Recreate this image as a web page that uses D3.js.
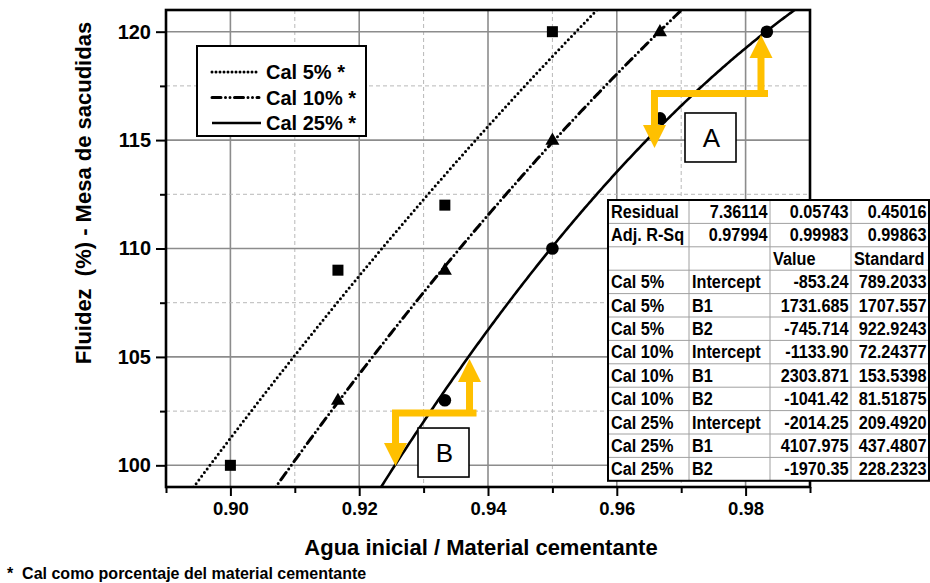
<!DOCTYPE html>
<html>
<head>
<meta charset="utf-8">
<script src="https://cdn.jsdelivr.net/npm/d3@7"></script>
<style>
  html, body { margin: 0; padding: 0; background: #fff; }
  svg { display: block; font-family: "Liberation Sans", Arial, sans-serif; }
</style>
</head>
<body>
<svg id="chart" width="930" height="583"></svg>
<script>
// Measured flow (%) against initial water / cementing material ratio
const ratio5  = [0.9, 0.9167, 0.9333, 0.95];
const flow5   = [100, 109, 112, 120];
const ratio10 = [0.9167, 0.9333, 0.95, 0.9667];
const flow10  = [103, 109, 115, 120];
const ratio25 = [0.9333, 0.95, 0.9667, 0.9833];
const flow25  = [103, 110, 116, 120];

// Quadratic fit parameters (Intercept, B1, B2) and their standard errors
const seriesNames = ["Cal 5%", "Cal 10%", "Cal 25%"];
const fitIntercept = [-853.24, -1133.90, -2014.25];
const fitB1 = [1731.685, 2303.871, 4107.975];
const fitB2 = [-745.714, -1041.42, -1970.35];
const fitInterceptText = ["-853.24", "-1133.90", "-2014.25"];
const fitB1Text = ["1731.685", "2303.871", "4107.975"];
const fitB2Text = ["-745.714", "-1041.42", "-1970.35"];
const errIntercept = ["789.2033", "72.24377", "209.4920"];
const errB1 = ["1707.557", "153.5398", "437.4807"];
const errB2 = ["922.9243", "81.51875", "228.2323"];
const residualText = ["7.36114", "0.05743", "0.45016"];
const adjRSqText = ["0.97994", "0.99983", "0.99863"];

// Axis ticks
const xMajor = [0.90, 0.92, 0.94, 0.96, 0.98];
const xMinor = [0.89, 0.91, 0.93, 0.95, 0.97, 0.99];
const yMajor = [100, 105, 110, 115, 120];
const yMinor = [102.5, 107.5, 112.5, 117.5];

const svg = d3.select("#chart");
const L = 166, R = 810, T = 10, B = 487;
const x = d3.scaleLinear().domain([0.89, 0.99]).range([L, R]);
const y = d3.scaleLinear().domain([99, 121]).range([B, T]);

svg.append("defs").append("clipPath").attr("id", "plot")
  .append("rect").attr("x", L).attr("y", T).attr("width", R - L).attr("height", B - T);

// Grid
const grid = svg.append("g");
grid.selectAll(".gx").data(xMajor).join("line")
  .attr("x1", d => x(d)).attr("x2", d => x(d)).attr("y1", T).attr("y2", B)
  .attr("stroke", "#8c8c8c").attr("stroke-width", 1.6);
grid.selectAll(".gxm").data(xMinor.filter(d => d > 0.895 && d < 0.985)).join("line")
  .attr("x1", d => x(d)).attr("x2", d => x(d)).attr("y1", T).attr("y2", B)
  .attr("stroke", "#b8b8b8").attr("stroke-width", 1).attr("stroke-dasharray", "4,3");
grid.selectAll(".gy").data(yMajor).join("line")
  .attr("y1", d => y(d)).attr("y2", d => y(d)).attr("x1", L).attr("x2", R)
  .attr("stroke", "#8c8c8c").attr("stroke-width", 1.6);
grid.selectAll(".gym").data(yMinor).join("line")
  .attr("y1", d => y(d)).attr("y2", d => y(d)).attr("x1", L).attr("x2", R)
  .attr("stroke", "#b8b8b8").attr("stroke-width", 1).attr("stroke-dasharray", "4,3");

// Fitted curves
const dashes = ["0 4.6", "9 4.5 0 4.5 0 4.5", null];
const caps = ["round", "round", "butt"];
const xs = d3.range(0, 401).map(i => 0.89 + i * 0.10 / 400);
const line = d3.line().x(d => x(d[0])).y(d => y(d[1]));
const curves = svg.append("g").attr("clip-path", "url(#plot)");
seriesNames.forEach((name, i) => {
  const pts = xs.map(v => [v, fitIntercept[i] + fitB1[i] * v + fitB2[i] * v * v]);
  curves.append("path").attr("d", line(pts))
    .attr("fill", "none").attr("stroke", "#000").attr("stroke-width", i === 2 ? 2.6 : 3)
    .attr("stroke-linecap", caps[i])
    .attr("stroke-dasharray", dashes[i]);
});

// Markers
const mk = svg.append("g");
mk.selectAll(".sq").data(d3.zip(ratio5, flow5)).join("rect")
  .attr("x", d => x(d[0]) - 5.5).attr("y", d => y(d[1]) - 5.5)
  .attr("width", 11).attr("height", 11).attr("fill", "#000");
const tri = d3.symbol().type(d3.symbolTriangle).size(85);
mk.selectAll(".tr").data(d3.zip(ratio10, flow10)).join("path")
  .attr("d", tri).attr("transform", d => `translate(${x(d[0])},${y(d[1]) + 0.5})`).attr("fill", "#000");
mk.selectAll(".ci").data(d3.zip(ratio25, flow25)).join("circle")
  .attr("cx", d => x(d[0])).attr("cy", d => y(d[1])).attr("r", 6.3).attr("fill", "#000");

// Annotation arrows and labels
const orange = "#ffc000";
function stepArrow(xUp, yUpTip, yStep, xDown, yDownTip) {
  const g = svg.append("g");
  const head = 23, half = 11.5;
  const pUp = x(xUp), pDn = x(xDown), pStep = y(yStep);
  const tUp = y(yUpTip), tDn = y(yDownTip);
  g.append("path")
    .attr("d", `M${pUp},${pStep} L${pUp},${tUp + head - 1} M${pUp + 3.5},${pStep} L${pDn},${pStep} L${pDn},${tDn - head + 1}`)
    .attr("fill", "none").attr("stroke", orange).attr("stroke-width", 7)
    .attr("stroke-linejoin", "miter").attr("stroke-linecap", "square");
  g.append("path")
    .attr("d", `M${pUp},${tUp} L${pUp - half},${tUp + head} L${pUp + half},${tUp + head} Z`)
    .attr("fill", orange);
  g.append("path")
    .attr("d", `M${pDn},${tDn} L${pDn - half},${tDn - head} L${pDn + half},${tDn - head} Z`)
    .attr("fill", orange);
}
function labelBox(x0, x1, y0, y1, text) {
  const g = svg.append("g");
  g.append("rect").attr("x", x(x0)).attr("y", y(y0))
    .attr("width", x(x1) - x(x0)).attr("height", y(y1) - y(y0))
    .attr("fill", "#fff").attr("stroke", "#000").attr("stroke-width", 1.6);
  g.append("text").attr("x", (x(x0) + x(x1)) / 2 + 1).attr("y", (y(y0) + y(y1)) / 2 + 9.5)
    .attr("text-anchor", "middle").attr("font-size", 26).text(text);
}
stepArrow(0.98239, 119.85, 117.15, 0.96585, 114.63);
labelBox(0.97059, 0.97851, 116.25, 113.99, "A");
stepArrow(0.93713, 104.90, 102.41, 0.92564, 99.97);
labelBox(0.92913, 0.93705, 101.72, 99.46, "B");

// Axes
const axFont = size => g => g.selectAll("text").attr("font-size", size).attr("font-weight", "bold")
  .attr("font-family", "Liberation Sans, Arial, sans-serif").attr("fill", "#000");
svg.append("g").attr("transform", `translate(0,${B})`)
  .call(d3.axisBottom(x).tickValues(xMajor).tickFormat(d3.format(".2f")).tickSize(9).tickPadding(6))
  .call(axFont(18.5));
svg.append("g").attr("transform", `translate(0,${B})`)
  .call(d3.axisBottom(x).tickValues(xMinor).tickFormat("").tickSize(6));
svg.append("g").attr("transform", `translate(${L},0)`)
  .call(d3.axisLeft(y).tickValues(yMajor).tickFormat(d3.format("d")).tickSize(10).tickPadding(5))
  .call(axFont(20));
svg.append("g").attr("transform", `translate(${L},0)`)
  .call(d3.axisLeft(y).tickValues(yMinor).tickFormat("").tickSize(6));
svg.selectAll(".domain").remove();
svg.selectAll(".tick line").attr("stroke", "#000").attr("stroke-width", 2);

// Frame
svg.append("rect").attr("x", L).attr("y", T).attr("width", R - L).attr("height", B - T)
  .attr("fill", "none").attr("stroke", "#000").attr("stroke-width", 2.6);

// Axis titles
svg.append("text").attr("x", 481).attr("y", 555).attr("text-anchor", "middle")
  .attr("font-size", 22).attr("font-weight", "bold").text("Agua inicial / Material cementante");
svg.append("text").attr("transform", "translate(91,193) rotate(-90)").attr("text-anchor", "middle")
  .attr("font-size", 22).attr("font-weight", "bold").style("white-space", "pre")
  .text("Fluidez  (%) - Mesa de sacudidas");

// Footnote
svg.append("text").attr("x", 7).attr("y", 579).attr("font-size", 16).attr("font-weight", "bold")
  .style("white-space", "pre").text("*  Cal como porcentaje del material cementante");

// Legend
const leg = svg.append("g");
leg.append("rect").attr("x", 197).attr("y", 46).attr("width", 169).attr("height", 90)
  .attr("fill", "#fff").attr("stroke", "#000").attr("stroke-width", 2);
seriesNames.forEach((name, i) => {
  const cy = 72 + i * 25.5;
  leg.append("line").attr("x1", 212).attr("x2", i === 2 ? 261 : 259).attr("y1", cy).attr("y2", cy)
    .attr("stroke", "#000").attr("stroke-width", i === 2 ? 2.6 : 3)
    .attr("stroke-linecap", caps[i]).attr("stroke-dasharray", i === 0 ? "0 4" : dashes[i]);
  leg.append("text").attr("x", 266).attr("y", cy + 7).attr("font-size", 20).attr("font-weight", "bold")
    .text(name + " *");
});

// Fit statistics table
const tb = svg.append("g");
const colX = [608, 689, 770, 851, 929];
const tableTop = 200, rowH = 23.4;
const rows = [
  ["Residual", residualText[0], residualText[1], residualText[2]],
  ["Adj. R-Sq", adjRSqText[0], adjRSqText[1], adjRSqText[2]],
  ["", "", "Value", "Standard"]
];
seriesNames.forEach((name, i) => {
  rows.push([name, "Intercept", fitInterceptText[i], errIntercept[i]]);
  rows.push([name, "B1", fitB1Text[i], errB1[i]]);
  rows.push([name, "B2", fitB2Text[i], errB2[i]]);
});
const tableBottom = tableTop + rowH * rows.length;
tb.append("rect").attr("x", colX[0]).attr("y", tableTop).attr("width", colX[4] - colX[0])
  .attr("height", tableBottom - tableTop).attr("fill", "#fff");
d3.range(1, rows.length).forEach(r => {
  tb.append("line").attr("x1", colX[0]).attr("x2", colX[4])
    .attr("y1", tableTop + r * rowH).attr("y2", tableTop + r * rowH)
    .attr("stroke", "#a0a0a0").attr("stroke-width", 1);
});
[1, 2, 3].forEach(c => {
  tb.append("line").attr("x1", colX[c]).attr("x2", colX[c]).attr("y1", tableTop).attr("y2", tableBottom)
    .attr("stroke", "#a0a0a0").attr("stroke-width", 1);
});
tb.append("rect").attr("x", colX[0]).attr("y", tableTop).attr("width", colX[4] - colX[0])
  .attr("height", tableBottom - tableTop)
  .attr("fill", "none").attr("stroke", "#000").attr("stroke-width", 2);
rows.forEach((row, r) => {
  const by = tableTop + r * rowH + 18;
  row.forEach((cell, c) => {
    const rightAlign = (r < 2 && c > 0) || (r > 2 && c > 1);
    const ax = rightAlign ? colX[c + 1] - 2.5 : colX[c] + 3;
    tb.append("text")
      .attr("transform", `translate(${ax},${by}) scale(0.93,1)`)
      .attr("text-anchor", rightAlign ? "end" : "start")
      .attr("font-size", 17.5).attr("font-weight", "bold").text(cell);
  });
});
</script>
</body>
</html>
